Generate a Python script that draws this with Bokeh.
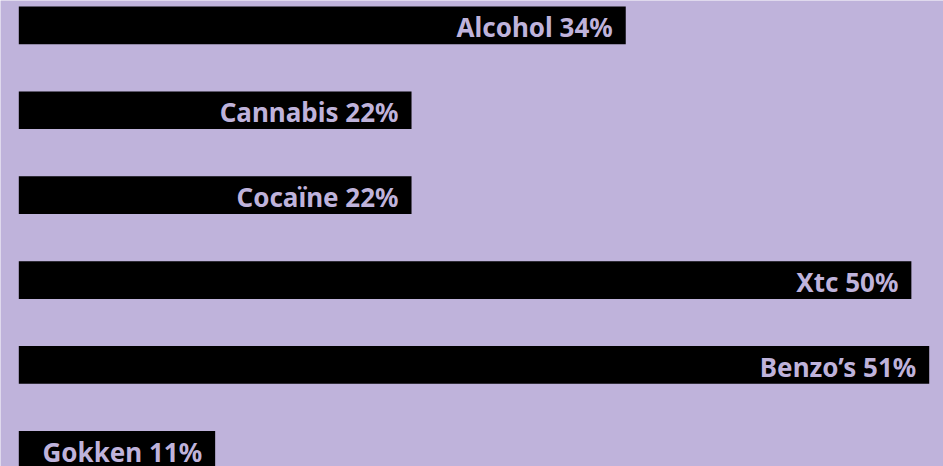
from bokeh.plotting import figure
from bokeh.models import ColumnDataSource, Range1d
from bokeh.core.properties import value
from bokeh.embed import file_html
from bokeh.resources import INLINE

categories = ["Alcohol", "Cannabis", "Cocaïne", "Xtc", "Benzo’s", "Gokken"]
percentages = [34, 22, 22, 50, 51, 11]

BG = "#BFB3DB"

labels = [f"{c} {v}%" for c, v in zip(categories, percentages)]
positions = list(range(len(categories)))

src = ColumnDataSource(dict(y=positions, v=percentages, label=labels))

p = figure(width=943, height=466, output_backend="svg", toolbar_location=None,
           x_range=Range1d(-1.025, 51.8), y_range=Range1d(5.196, -0.293),
           min_border_left=0, min_border_right=0, min_border_top=0, min_border_bottom=0)
p.background_fill_color = BG
p.border_fill_color = BG
p.outline_line_color = None
p.xaxis.visible = False
p.yaxis.visible = False
p.xgrid.visible = False
p.ygrid.visible = False

p.hbar(y="y", left=0, right="v", height=0.444, source=src,
       fill_color="black", line_color=None)

p.text(x="v", y="y", text="label", source=src,
       text_align="right", text_baseline="middle",
       x_offset=-13, y_offset=2,
       text_font=value("Noto Sans"), text_font_style="bold",
       text_font_size="26px", text_color=BG)

open("out.html", "w").write(file_html(p, INLINE))
